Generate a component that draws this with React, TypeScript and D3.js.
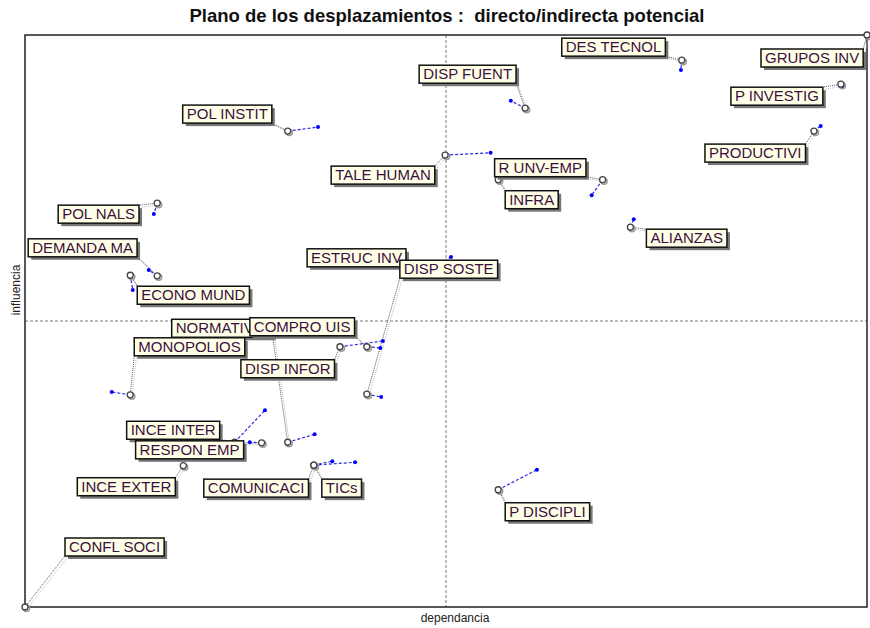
import React, { useEffect, useRef } from "react";
import * as d3 from "d3";

// variables (MICMAC), original position (circle) and displaced position (blue dot)
const names = [
  "GRUPOS INV", "DES TECNOL", "DISP FUENT", "P INVESTIG", "PRODUCTIVI", "POL INSTIT",
  "TALE HUMAN", "R UNV-EMP", "INFRA", "ALIANZAS", "POL NALS", "DEMANDA MA",
  "ECONO MUND", "ESTRUC INV", "DISP SOSTE", "NORMATIVID", "COMPRO UIS", "MONOPOLIOS",
  "DISP INFOR", "INCE INTER", "RESPON EMP", "INCE EXTER", "COMUNICACI", "TICs",
  "P DISCIPLI", "CONFL SOCI",
];
const depDirect = [100, 78.0, 59.4, 96.9, 93.7, 31.2, 49.9, 68.6, 56.2, 71.9, 15.7, 15.7, 12.5, 47.4, 40.6, 31.2, 40.6, 12.5, 37.4, 24.9, 28.1, 18.8, 34.3, 34.3, 56.2, 0];
const infDirect = [100, 95.6, 87.2, 91.4, 83.2, 83.2, 79.0, 74.7, 74.7, 66.4, 70.6, 57.9, 58.0, 57.9, 37.2, 28.8, 45.5, 37.1, 45.5, 28.8, 28.7, 24.7, 24.8, 24.8, 20.5, 0];
const depPotential = [100, 77.9, 57.7, 97.1, 94.5, 34.8, 55.3, 67.3, 56.2, 72.3, 15.3, 14.7, 12.8, 50.6, 42.3, 34.4, 42.2, 10.3, 42.5, 28.5, 26.7, 18.8, 36.5, 39.2, 60.8, 0];
const infPotential = [100, 93.9, 88.5, 91.1, 84.1, 83.9, 79.4, 72.0, 74.7, 67.8, 68.7, 58.9, 55.4, 61.2, 36.7, 30.2, 45.3, 37.6, 46.5, 34.4, 28.8, 24.7, 25.5, 25.3, 24.0, 0];

// label box offsets from the circle, in pixels
const labelDx = [-106, -120, -106, -110, -109, -105, -114, -108, 7, 16, -99, -129, 7, -117, 33, -116, -117, 4, -99, -108, -126, -106, -110, 8, 7, 40];
const labelDy = [14, -22, -43, 3, 13, -26, 11, -21, 11, 2, 2, -37, 11, -27, -134, -123, -29, -57, 13, -21, -2, 12, 14, 14, 13, -69];

const W = 870;
const H = 628;
const M = { left: 25, right: 867, top: 35, bottom: 607 };
const FONT = "Arial, 'Liberation Sans', sans-serif";

export default function App() {
  const ref = useRef<SVGSVGElement>(null);

  useEffect(() => {
    const svg = d3.select(ref.current);
    svg.selectAll("*").remove();

    const x = d3.scaleLinear().domain([0, 100]).range([M.left, M.right]);
    const y = d3.scaleLinear().domain([0, 100]).range([M.bottom, M.top]);

    svg.append("rect").attr("width", W).attr("height", H).attr("fill", "#fff");

    svg.append("text")
      .attr("x", 447).attr("y", 22)
      .attr("text-anchor", "middle")
      .attr("font-family", FONT)
      .attr("font-weight", "bold").attr("font-size", 18.5)
      .attr("fill", "#111")
      .attr("xml:space", "preserve")
      .text("Plano de los desplazamientos :  directo/indirecta potencial");

    // quadrant lines
    svg.append("line")
      .attr("x1", x(50)).attr("x2", x(50)).attr("y1", M.top).attr("y2", M.bottom)
      .attr("stroke", "#777").attr("stroke-dasharray", "3,2");
    svg.append("line")
      .attr("x1", M.left).attr("x2", M.right).attr("y1", y(50)).attr("y2", y(50))
      .attr("stroke", "#777").attr("stroke-dasharray", "3,2");

    svg.append("rect")
      .attr("x", M.left).attr("y", M.top)
      .attr("width", M.right - M.left).attr("height", M.bottom - M.top)
      .attr("fill", "none").attr("stroke", "#222").attr("stroke-width", 1.5);

    svg.append("text")
      .attr("x", 455).attr("y", 622)
      .attr("text-anchor", "middle")
      .attr("font-family", FONT)
      .attr("font-size", 12).attr("fill", "#222")
      .text("dependancia");
    svg.append("text")
      .attr("transform", "translate(20,290) rotate(-90)")
      .attr("text-anchor", "middle")
      .attr("font-family", FONT)
      .attr("font-size", 12).attr("fill", "#222")
      .text("influencia");

    const items = names.map((n, i) => ({
      name: n,
      cx: x(depDirect[i]),
      cy: y(infDirect[i]),
      px: x(depPotential[i]),
      py: y(infPotential[i]),
      bx: x(depDirect[i]) + labelDx[i],
      by: y(infDirect[i]) + labelDy[i],
      bw: 0,
      bh: 18,
    }));

    // measure label widths
    const meas = svg.append("text").attr("font-family", FONT).attr("font-size", 15);
    items.forEach((d) => {
      meas.text(d.name);
      d.bw = (meas.node() as SVGTextElement).getComputedTextLength() + 8;
    });
    meas.remove();

    // connectors circle -> label
    const gConn = svg.append("g");
    items.forEach((d) => {
      const ex = Math.max(d.bx, Math.min(d.cx, d.bx + d.bw));
      const ey = Math.max(d.by, Math.min(d.cy, d.by + d.bh));
      if (Math.hypot(ex - d.cx, ey - d.cy) < 4) return;
      gConn.append("line")
        .attr("x1", d.cx + 2).attr("y1", d.cy + 2).attr("x2", ex + 2).attr("y2", ey + 2)
        .attr("stroke", "#bbb").attr("stroke-dasharray", "1,1");
      gConn.append("line")
        .attr("x1", d.cx).attr("y1", d.cy).attr("x2", ex).attr("y2", ey)
        .attr("stroke", "#555").attr("stroke-dasharray", "1,1");
    });

    // displacement
    const gMove = svg.append("g");
    items.forEach((d) => {
      gMove.append("line")
        .attr("x1", d.cx).attr("y1", d.cy).attr("x2", d.px).attr("y2", d.py)
        .attr("stroke", "#2a2ae6").attr("stroke-width", 1.2)
        .attr("stroke-dasharray", "3,2");
      gMove.append("circle")
        .attr("cx", d.px).attr("cy", d.py).attr("r", 2)
        .attr("fill", "#0000ff");
    });
    items.forEach((d) => {
      gMove.append("circle")
        .attr("cx", d.cx + 1.5).attr("cy", d.cy + 1.5).attr("r", 3)
        .attr("fill", "none").attr("stroke", "#999").attr("stroke-width", 1.5);
      gMove.append("circle")
        .attr("cx", d.cx).attr("cy", d.cy).attr("r", 3)
        .attr("fill", "#fff").attr("stroke", "#444").attr("stroke-width", 1.3);
    });

    // labels
    const gLab = svg.append("g");
    items.forEach((d) => {
      gLab.append("rect")
        .attr("x", d.bx + 3).attr("y", d.by + 3)
        .attr("width", d.bw).attr("height", d.bh)
        .attr("fill", "#777");
      gLab.append("rect")
        .attr("x", d.bx).attr("y", d.by)
        .attr("width", d.bw).attr("height", d.bh)
        .attr("fill", "#ffffe8").attr("stroke", "#111").attr("stroke-width", 1.5);
      gLab.append("text")
        .attr("x", d.bx + 4).attr("y", d.by + 14)
        .attr("font-family", FONT)
        .attr("font-size", 15).attr("fill", "#3a1040")
        .text(d.name);
    });
  }, []);

  return (
    <svg
      ref={ref}
      width={W}
      height={H}
      style={{ position: "absolute", left: 0, top: 0 }}
    />
  );
}
